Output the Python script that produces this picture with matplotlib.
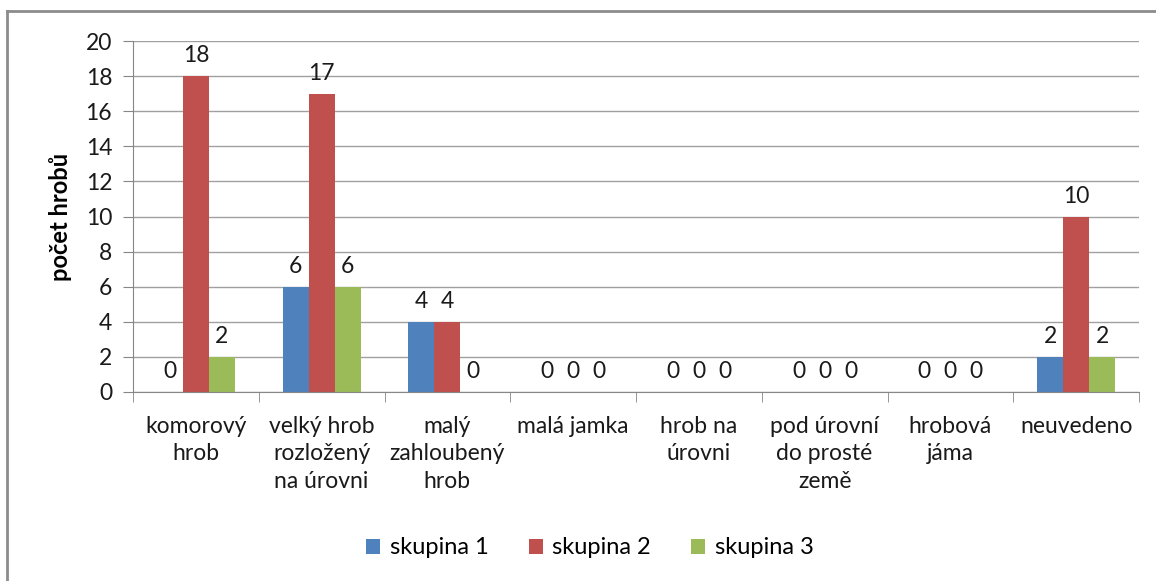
import matplotlib.pyplot as plt
from matplotlib.lines import Line2D
import numpy as np

plt.rcParams['font.family'] = ['Lato', 'DejaVu Sans']

categories = ['komorový\nhrob', 'velký hrob\nrozložený\nna úrovni', 'malý\nzahloubený\nhrob',
              'malá jamka', 'hrob na\núrovni', 'pod úrovní\ndo prosté\nzemě',
              'hrobová\njáma', 'neuvedeno']
skupina1 = [0, 6, 4, 0, 0, 0, 0, 2]
skupina2 = [18, 17, 4, 0, 0, 0, 0, 10]
skupina3 = [2, 6, 0, 0, 0, 0, 0, 2]
series = [('skupina 1', skupina1, '#4f81bd'),
          ('skupina 2', skupina2, '#c0504d'),
          ('skupina 3', skupina3, '#9bbb59')]

fig = plt.figure(figsize=(11.56, 5.81), dpi=100)
ax = fig.add_axes([133 / 1156, 1 - 392 / 581, (1139 - 133) / 1156, (392 - 41) / 581])

x = np.arange(len(categories))
w = 0.207
fs = 16.5
for i, (name, vals, col) in enumerate(series):
    pos = x + (i - 1) * w
    ax.bar(pos, vals, width=w, color=col, label=name, zorder=2)
    for px, v in zip(pos, vals):
        ax.annotate(str(v), (px, v), xytext=(0, 7), textcoords='offset points',
                    ha='center', va='bottom', fontsize=fs, color='#1a1a1a')

ax.set_xlim(-0.5, len(categories) - 0.5)
ax.set_ylim(0, 20)
ax.set_yticks(range(0, 21, 2))
ax.yaxis.grid(True, color='#a0a0a0', linewidth=1, zorder=0)
ax.set_axisbelow(True)
ax.set_xticks(x)
ax.set_xticklabels(categories, fontsize=fs, linespacing=1.4, color='#1a1a1a')
ax.set_xticks(np.arange(-0.5, len(categories), 1), minor=True)
ax.tick_params(axis='x', which='major', length=0, pad=17)
ax.tick_params(axis='x', which='minor', length=7, color='#868686')
ax.tick_params(axis='y', length=7, color='#868686', labelsize=fs, labelcolor='#1a1a1a', pad=8)
for s in ['top', 'right']:
    ax.spines[s].set_visible(False)
for s in ['left', 'bottom']:
    ax.spines[s].set_color('#868686')
ax.set_ylabel('počet hrobů', fontsize=17, fontweight='bold', labelpad=10)

ax.legend(loc='center', bbox_to_anchor=(590 / 1156, 1 - 548 / 581), bbox_transform=fig.transFigure,
          ncol=3, frameon=False, fontsize=17, handlelength=0.6, handleheight=0.6,
          handletextpad=0.4, columnspacing=1.7)

# chart border (only top and left edges visible)
fig.add_artist(Line2D([7 / 1156, 1], [1 - 11 / 581, 1 - 11 / 581], transform=fig.transFigure,
                      color='#8c8c8c', linewidth=2))
fig.add_artist(Line2D([7 / 1156, 7 / 1156], [0, 1 - 11 / 581], transform=fig.transFigure,
                      color='#8c8c8c', linewidth=2))

fig.savefig('out.png', dpi=100)
